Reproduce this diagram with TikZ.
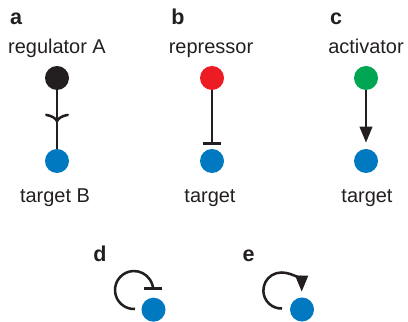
\documentclass[tikz,border=0pt]{standalone}
\usepackage{fontspec}
\setmainfont{Liberation Sans}
\usepackage{xcolor}
\usetikzlibrary{arrows.meta, decorations.markings}

\definecolor{regblack}{HTML}{231F20}
\definecolor{repred}{HTML}{ED1C24}
\definecolor{actgreen}{HTML}{00A651}
\definecolor{tgtblue}{HTML}{0079C1}

\begin{document}
\begin{tikzpicture}[
  x=0.025cm, y=0.025cm,
  gene/.style={circle, minimum size=0.6cm, inner sep=0pt},
  txt/.style={anchor=base, inner sep=0pt, text=regblack, font=\fontsize{14.2}{17}\selectfont},
  panel/.style={anchor=base, inner sep=0pt, text=regblack, font=\fontsize{15.3}{18}\selectfont\bfseries},
  link/.style={draw=regblack, line width=1.8pt},
  act/.style={link, -{Triangle[length=0.4cm, width=0.31cm]}},
  inh/.style={link, -{Bar[width=0.45cm]}},
  reg/.style={link, postaction=decorate, decoration={markings, mark=at position 0.55 with {\arrow{To[length=0.22cm, width=0.6cm]}}}}
]
\useasboundingbox (0,0) rectangle (408,322);

% panel letters
\node[panel] (la) at (16,297) {a};
\node[panel] (lb) at (178,297) {b};
\node[panel] (lc) at (336,297) {c};
\node[panel] (ld) at (100,60) {d};
\node[panel] (le) at (248.5,60) {e};

% a: regulator -> target
\node[txt] (nreg) at (57,268) {regulator A};
\node[gene, fill=regblack] (regA) at (57,244) {};
\node[gene, fill=tgtblue] (tgtA) at (57,161) {};
\node[txt] (ttgtA) at (55,119) {target B};

% b: repressor
\node[txt] (nrep) at (211,268) {repressor};
\node[gene, fill=repred] (rep) at (212,244) {};
\node[gene, fill=tgtblue] (tgtR) at (212,161) {};
\node[txt] (ttgtR) at (210,119) {target};

% c: activator
\node[txt] (nact) at (366,268) {activator};
\node[gene, fill=actgreen] (actv) at (366,244) {};
\node[gene, fill=tgtblue] (tgtC) at (366,161) {};
\node[txt] (ttgtC) at (367,119) {target};

% d, e: self loops
\node[gene, fill=tgtblue] (selfR) at (153.5,12.3) {};
\node[gene, fill=tgtblue] (selfA) at (302,12.5) {};
\coordinate (dstart) at ([shift={(-18.5,0.7)}]selfR.center);
\coordinate (estart) at ([shift={(-20,1)}]selfA.center);
\coordinate (etip) at ([shift={(-0.3,17.8)}]selfA.center);

\draw[reg] (regA) -- (tgtA);
\draw[inh, shorten >=0.1cm] (rep) -- (tgtR);
\draw[act, shorten >=0.15cm] (actv) -- (tgtC);
\draw[inh] (dstart) arc[start angle=273, end angle=0, radius=0.475cm];
\draw[act] (estart) arc[start angle=272, end angle=90, radius=0.45cm] to[out=0, in=90] (etip);

\end{tikzpicture}
\end{document}
